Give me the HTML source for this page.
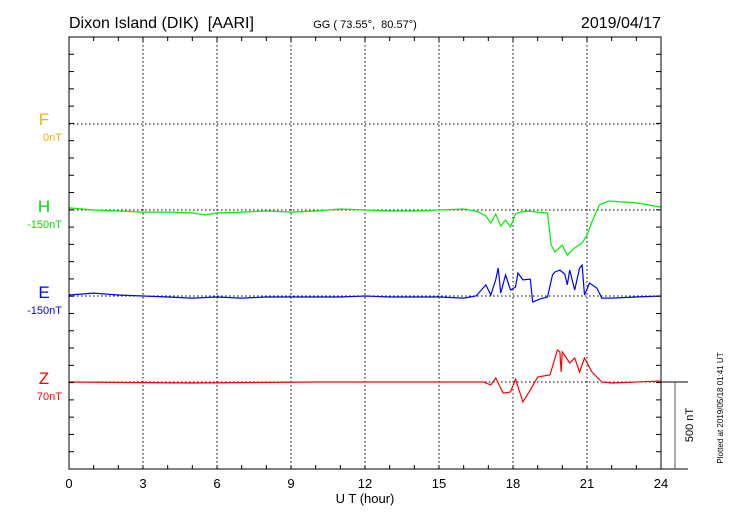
<!DOCTYPE html>
<html><head><meta charset="utf-8"><style>
body{margin:0;background:#fff}
svg{display:block;font-family:"Liberation Sans",sans-serif}
</style></head><body>
<svg id="c" width="730" height="520" viewBox="0 0 730 520">
<text x="69" y="28" font-size="16" style="white-space:pre">Dixon Island (DIK)  [AARI]</text>
<text x="365" y="28" font-size="11" text-anchor="middle" style="white-space:pre">GG ( 73.55°,  80.57°)</text>
<text x="661" y="28" font-size="16" text-anchor="end">2019/04/17</text>
<g id="grid"></g>
<g id="series"></g>
<rect x="69" y="37" width="592" height="432" fill="none" stroke="#000" stroke-width="1"/>
<g id="ticks"></g>
<g id="labels">
<text x="44" y="125" font-size="17" fill="#f5b000" text-anchor="middle">F</text>
<text x="62" y="141" font-size="11" fill="#f5b000" text-anchor="end">0nT</text>
<text x="44" y="212" font-size="17" fill="#00e000" text-anchor="middle">H</text>
<text x="62" y="228" font-size="11" fill="#00e000" text-anchor="end">-150nT</text>
<text x="44" y="298" font-size="17" fill="#0000ff" text-anchor="middle">E</text>
<text x="62" y="314" font-size="11" fill="#0000ff" text-anchor="end">-150nT</text>
<text x="44" y="384" font-size="17" fill="#ff0000" text-anchor="middle">Z</text>
<text x="62" y="400" font-size="11" fill="#ff0000" text-anchor="end">70nT</text>
</g>
<text x="365" y="503" font-size="13" text-anchor="middle">U T (hour)</text>
<g stroke="#000">
<line x1="661" y1="382" x2="688" y2="382"/><line x1="661" y1="469" x2="688" y2="469"/>
<line x1="675" y1="382" x2="675" y2="469" stroke="#555"/>
</g>
<text transform="translate(693,425) rotate(-90)" font-size="11" text-anchor="middle">500 nT</text>
<text transform="translate(723,408) rotate(-90)" font-size="8" text-anchor="middle">Plotted at 2019/05/18 01:41 UT</text>
</svg>
<script>
const xTicks=[0,3,6,9,12,15,18,21,24];
const hTime=[0,1,2,3,4,5,5.5,6,7,8,9,10,11,12,13,14,15,16,16.5,16.9,17.1,17.3,17.5,17.7,17.9,18.1,18.3,18.6,19,19.4,19.55,19.7,20,20.2,20.5,20.8,21,21.2,21.5,21.9,23,24];
const hVals=[12,0,-6,-12,-12,-17,-29,-17,-12,-6,-12,-6,6,0,-6,-6,0,6,-6,-35,-75,-23,-93,-58,-98,-23,-12,-6,-12,-17,-203,-243,-203,-261,-220,-191,-145,-69,29,52,41,17];
const eTime=[0,1,2,3,4,5,6,7,8,9,10,11,12,13,14,15,16,16.5,16.9,17.1,17.3,17.4,17.5,17.7,17.9,18.1,18.2,18.4,18.7,18.8,19.1,19.4,19.6,19.7,19.9,20.1,20.2,20.3,20.5,20.7,20.8,20.9,21.1,21.4,21.6,22,23,24];
const eVals=[6,17,6,0,-6,-12,-6,-12,-6,-6,-6,-6,0,-6,-6,-6,-12,0,64,6,93,162,17,122,35,52,133,93,98,-35,-17,-6,122,139,150,127,64,150,35,162,179,6,75,46,-12,-12,-6,0];
const zTime=[0,5,10,15,16,16.8,17.1,17.3,17.6,17.9,18.1,18.4,18.7,19,19.5,19.8,19.9,19.95,20,20.3,20.5,20.7,20.9,21.2,21.6,22,24];
const zVals=[0,-6,0,0,0,0,-17,23,-64,-58,17,-116,-46,29,41,185,174,58,174,110,139,58,139,58,0,-6,6];
const NS="http://www.w3.org/2000/svg";
const X0=69,X1=661,Y0=37,Y1=469;
const xs=h=>X0+(X1-X0)*h/24;
const pxPerNT=(Y1-Y0)/2500;
const ys=(base,v)=>base-v*pxPerNT;
function mk(tag,a,parent){const e=document.createElementNS(NS,tag);for(const k in a)e.setAttribute(k,a[k]);parent.appendChild(e);return e;}
const grid=document.getElementById('grid'),ticks=document.getElementById('ticks'),ser=document.getElementById('series');
xTicks.forEach(h=>{
  if(h>0&&h<24){const l=mk('line',{x1:xs(h),x2:xs(h),y1:Y0,y2:Y1,stroke:'#000','stroke-dasharray':'1.5,2.5','stroke-width':1},grid);
  
  }
  const t=mk('text',{x:xs(h),y:488,'font-size':13,'text-anchor':'middle'},ticks);t.textContent=h;
  
  
});
[124,210,296,382].forEach(y=>{const l=mk('line',{x1:X0,x2:X1,y1:y,y2:y,stroke:'#000','stroke-dasharray':'1.5,2.5','stroke-width':1},grid);
  
  });
for(let h=1;h<24;h++){const x=xs(h);
  mk('line',{x1:x,x2:x,y1:Y0,y2:Y0+4,stroke:'#000'},ticks);
  mk('line',{x1:x,x2:x,y1:Y1,y2:Y1-4,stroke:'#000'},ticks);}
for(let i=1;i<25;i++){const y=Y0+i*(Y1-Y0)/25;
  mk('line',{x1:X0,x2:X0+5,y1:y,y2:y,stroke:'#000'},ticks);
  mk('line',{x1:X1,x2:X1-5,y1:y,y2:y,stroke:'#000'},ticks);}
function line(t,v,base,color,name){
  const d=t.map((h,i)=>(i?'L':'M')+xs(h).toFixed(1)+','+ys(base,v[i]).toFixed(1)).join('');
  const p=mk('path',{d:d,fill:'none',stroke:color,'stroke-width':1.2},ser);
  
  
}
line(hTime,hVals,210,'#00ee00','h-series');
line(eTime,eVals,296,'#0000ff','e-series');
line(zTime,zVals,382,'#ff0000','z-series');
</script>
</body></html>
